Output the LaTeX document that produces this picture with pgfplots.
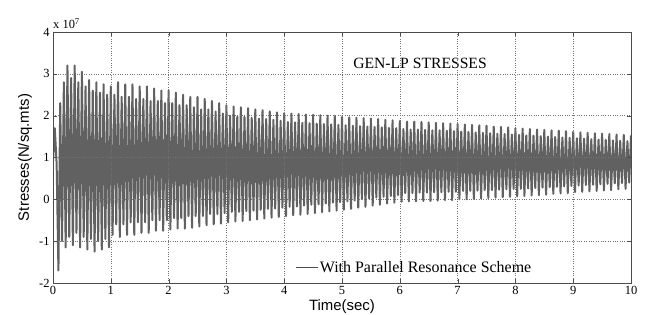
\documentclass[border=0pt]{standalone}
\usepackage{fontspec}
\setmainfont{Liberation Serif}
\newfontfamily\arial{Liberation Sans}
\usepackage{pgfplots}
\pgfplotsset{compat=1.18}
\begin{document}
\begin{tikzpicture}
\begin{axis}[
 scale only axis, width=578bp, height=251bp,
 xmin=0,xmax=10,ymin=-2,ymax=4,
 xtick={0,1,...,10}, ytick={-2,-1,...,4},
 grid=major, grid style={dotted, black!55, line width=0.6pt},
 axis on top,
 axis line style={black!70, line width=0.6pt},
 tick align=inside, major tick length=4bp, tick style={black!70},
 /pgf/number format/assume math mode=true,
 ticklabel style={font=\fontsize{12.5}{14}\selectfont},
 xlabel={Time(sec)}, ylabel={Stresses(N/sq.mts)},
 label style={font=\arial\fontsize{15}{17}\selectfont},
 xlabel style={at={(axis description cs:0.5,-0.0956)}, anchor=center},
 ylabel style={at={(axis description cs:-0.0484,0.5)}, anchor=center},
 legend style={at={(axis cs:4.19,-1.63)}, anchor=west, draw=none, fill=none, font=\fontsize{16}{18}\selectfont, inner sep=0pt},
 legend cell align=left,
 legend image code/.code={\draw[black!70, line width=0.5pt] (0bp,0bp) -- (22bp,0bp);},
]
\addplot[black!62, line width=2pt, line join=round] coordinates {
(0.000,0.9)(0.031,1.7)(0.063,0.85)(0.094,-1.7)(0.125,2.3)(0.156,-1.0)(0.188,2.8)(0.219,-1.15)(0.250,3.2)(0.281,-0.9)(0.313,2.9)(0.344,-1.1)(0.375,3.2)(0.406,-0.8)(0.438,2.8)(0.469,-1.15)(0.500,3.05)(0.531,-0.9)(0.563,2.7)(0.594,-1.2)(0.625,2.85)(0.656,-0.95)(0.688,2.6)(0.719,-1.25)(0.750,2.8)(0.781,-1.0)(0.813,2.55)(0.844,-1.2)(0.875,2.75)(0.906,-0.95)(0.938,2.5)(0.969,-1.15)(1.000,2.7)
(1.031,-0.85)(1.063,2.5)(1.094,-0.6)(1.125,2.8)(1.156,-0.9)(1.188,2.45)(1.219,-0.6)(1.250,2.75)(1.281,-0.85)(1.313,2.45)(1.344,-0.55)(1.375,2.75)(1.406,-0.85)(1.438,2.4)(1.469,-0.55)(1.500,2.7)(1.531,-0.8)(1.563,2.4)(1.594,-0.55)(1.625,2.7)(1.656,-0.8)(1.688,2.35)(1.719,-0.5)(1.750,2.65)(1.781,-0.75)(1.813,2.35)(1.844,-0.5)(1.875,2.6)(1.906,-0.75)(1.938,2.3)(1.969,-0.5)(2.000,2.6)
(2.031,-0.72)(2.063,2.3)(2.094,-0.45)(2.125,2.55)(2.156,-0.7)(2.188,2.25)(2.219,-0.45)(2.250,2.5)(2.281,-0.7)(2.313,2.25)(2.344,-0.4)(2.375,2.45)(2.406,-0.68)(2.438,2.2)(2.469,-0.4)(2.500,2.45)(2.531,-0.65)(2.563,2.15)(2.594,-0.4)(2.625,2.4)(2.656,-0.62)(2.688,2.15)(2.719,-0.35)(2.750,2.35)(2.781,-0.6)(2.813,2.1)(2.844,-0.35)(2.875,2.3)(2.906,-0.58)(2.938,2.05)(2.969,-0.33)(3.000,2.25)
(3.031,-0.55)(3.063,2.0)(3.094,-0.3)(3.125,2.22)(3.156,-0.53)(3.188,1.98)(3.219,-0.3)(3.250,2.2)(3.281,-0.52)(3.313,1.97)(3.344,-0.28)(3.375,2.18)(3.406,-0.5)(3.438,1.95)(3.469,-0.27)(3.500,2.15)(3.531,-0.48)(3.563,1.93)(3.594,-0.25)(3.625,2.13)(3.656,-0.46)(3.688,1.92)(3.719,-0.23)(3.750,2.1)(3.781,-0.44)(3.813,1.9)(3.844,-0.22)(3.875,2.08)(3.906,-0.42)(3.938,1.88)(3.969,-0.2)(4.000,2.06)
(4.031,-0.4)(4.063,1.85)(4.094,-0.18)(4.125,2.05)(4.156,-0.38)(4.188,1.84)(4.219,-0.17)(4.250,2.04)(4.281,-0.37)(4.313,1.83)(4.344,-0.15)(4.375,2.03)(4.406,-0.35)(4.438,1.82)(4.469,-0.13)(4.500,2.02)(4.531,-0.33)(4.563,1.81)(4.594,-0.12)(4.625,2.01)(4.656,-0.31)(4.688,1.8)(4.719,-0.1)(4.750,2.0)(4.781,-0.29)(4.813,1.79)(4.844,-0.08)(4.875,1.99)(4.906,-0.27)(4.938,1.78)(4.969,-0.07)(5.000,1.97)
(5.031,-0.25)(5.063,1.77)(5.094,-0.05)(5.125,1.96)(5.156,-0.23)(5.188,1.76)(5.219,-0.03)(5.250,1.95)(5.281,-0.2)(5.313,1.75)(5.344,0.0)(5.375,1.94)(5.406,-0.18)(5.438,1.74)(5.469,0.02)(5.500,1.93)(5.531,-0.15)(5.563,1.73)(5.594,0.04)(5.625,1.92)(5.656,-0.13)(5.688,1.72)(5.719,0.06)(5.750,1.9)(5.781,-0.1)(5.813,1.71)(5.844,0.08)(5.875,1.89)(5.906,-0.08)(5.938,1.7)(5.969,0.1)(6.000,1.87)
(6.031,-0.06)(6.063,1.68)(6.094,0.15)(6.125,1.86)(6.156,-0.05)(6.188,1.67)(6.219,0.15)(6.250,1.86)(6.281,-0.05)(6.313,1.67)(6.344,0.16)(6.375,1.85)(6.406,-0.04)(6.438,1.66)(6.469,0.16)(6.500,1.84)(6.531,-0.04)(6.563,1.65)(6.594,0.17)(6.625,1.83)(6.656,-0.03)(6.688,1.65)(6.719,0.17)(6.750,1.82)(6.781,-0.02)(6.813,1.64)(6.844,0.18)(6.875,1.81)(6.906,-0.02)(6.938,1.63)(6.969,0.18)(7.000,1.8)
(7.031,0.0)(7.063,1.62)(7.094,0.2)(7.125,1.79)(7.156,0.0)(7.188,1.61)(7.219,0.2)(7.250,1.78)(7.281,0.01)(7.313,1.6)(7.344,0.21)(7.375,1.77)(7.406,0.02)(7.438,1.59)(7.469,0.22)(7.500,1.76)(7.531,0.03)(7.563,1.58)(7.594,0.22)(7.625,1.74)(7.656,0.04)(7.688,1.57)(7.719,0.23)(7.750,1.73)(7.781,0.05)(7.813,1.56)(7.844,0.24)(7.875,1.72)(7.906,0.06)(7.938,1.55)(7.969,0.25)(8.000,1.7)
(8.031,0.07)(8.063,1.54)(8.094,0.25)(8.125,1.69)(8.156,0.08)(8.188,1.53)(8.219,0.26)(8.250,1.68)(8.281,0.09)(8.313,1.52)(8.344,0.27)(8.375,1.67)(8.406,0.1)(8.438,1.51)(8.469,0.28)(8.500,1.66)(8.531,0.11)(8.563,1.5)(8.594,0.29)(8.625,1.65)(8.656,0.13)(8.688,1.49)(8.719,0.3)(8.750,1.64)(8.781,0.14)(8.813,1.48)(8.844,0.31)(8.875,1.63)(8.906,0.15)(8.938,1.47)(8.969,0.32)(9.000,1.61)
(9.031,0.17)(9.063,1.46)(9.094,0.33)(9.125,1.6)(9.156,0.18)(9.188,1.45)(9.219,0.34)(9.250,1.59)(9.281,0.19)(9.313,1.44)(9.344,0.35)(9.375,1.58)(9.406,0.2)(9.438,1.43)(9.469,0.36)(9.500,1.57)(9.531,0.21)(9.563,1.42)(9.594,0.37)(9.625,1.56)(9.656,0.22)(9.688,1.41)(9.719,0.38)(9.750,1.55)(9.781,0.24)(9.813,1.4)(9.844,0.39)(9.875,1.54)(9.906,0.25)(9.938,1.39)(9.969,0.4)(10.000,1.53)
};
\addlegendentry{With Parallel Resonance Scheme}
\node[font=\fontsize{15.7}{17}\selectfont] at (axis cs:6.35,3.25) {GEN-LP STRESSES};
\coordinate (bl) at (rel axis cs:0,0);
\coordinate (tr) at (rel axis cs:1,1);
\coordinate (tl) at (rel axis cs:0,1);
\end{axis}
\node[font=\fontsize{12.5}{14}\selectfont, anchor=base west, inner sep=0pt] at ([yshift=3bp]tl) {x 10\textsuperscript{7}};
\pgfresetboundingbox
\path[use as bounding box] ([shift={(-53bp,-32bp)}]bl) rectangle ([shift={(23bp,32bp)}]tr);
\end{tikzpicture}
\end{document}
